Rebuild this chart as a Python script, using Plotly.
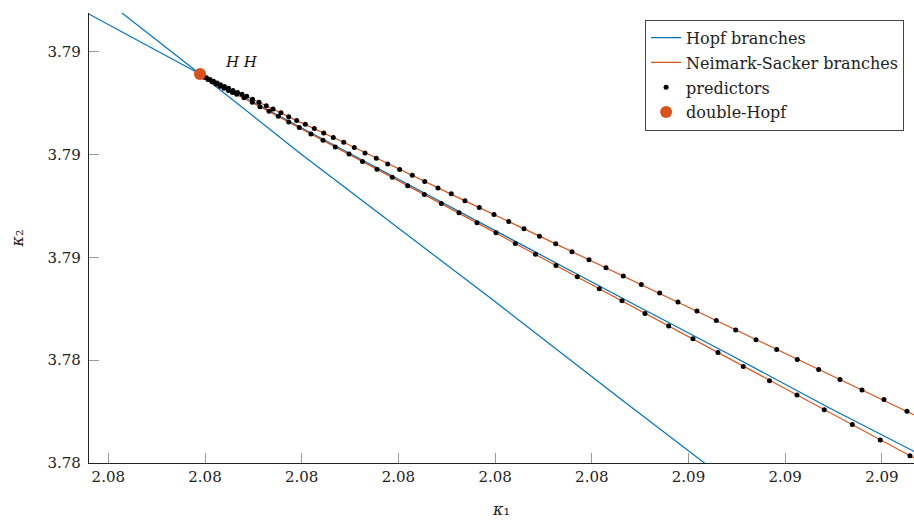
import plotly.graph_objects as go

BLUE = "#0072BD"
ORANGE = "#D95319"
FONT = "DejaVu Serif"

# ---- data ----
# double-Hopf point
hh_k1 = [2.0809483]
hh_k2 = [3.7867833]

# Hopf branch 1 (steep)
hopf1_k1 = [2.0800486, 2.0809483, 2.0819824, 2.0839648, 2.0853091, 2.0862119]
hopf1_k2 = [3.7874441, 3.7867833, 3.7860127, 3.7845938, 3.7836152, 3.7829661]

# Hopf branch 2 (shallow)
hopf2_k1 = [2.0797591, 2.0809483, 2.0819824, 2.0830165, 2.0843608, 2.0853949,
            2.0864290, 2.0874632, 2.0883733]
hopf2_k2 = [3.7873858, 3.7867833, 3.7862682, 3.7857483, 3.7850797, 3.7845627,
            3.7840526, 3.7835326, 3.7830924]

# Neimark-Sacker branch (upper)
ns1_k1 = [2.0809483, 2.0812430, 2.0815584, 2.0819482, 2.0824343, 2.0830134,
          2.0836886, 2.0844591, 2.0853257, 2.0862874, 2.0873463, 2.0882593, 2.0883733]
ns1_k2 = [3.7867833, 3.7866434, 3.7865083, 3.7863295, 3.7861195, 3.7858533,
          3.7855491, 3.7852061, 3.7848173, 3.7843858, 3.7839097, 3.7835034, 3.7834491]

# Neimark-Sacker branch (lower)
ns2_k1 = [2.0809483, 2.0812430, 2.0815687, 2.0819752, 2.0824891, 2.0830961,
          2.0838128, 2.0846297, 2.0855500, 2.0865666, 2.0876937, 2.0882903, 2.0883733]
ns2_k2 = [3.7867833, 3.7866220, 3.7864655, 3.7862614, 3.7860058, 3.7856949,
          3.7853353, 3.7849204, 3.7844539, 3.7839388, 3.7833752, 3.7830710, 3.7830293]

# predictors, upper branch
pred1_k1 = [2.0809793, 2.0810155, 2.0810517, 2.0810879, 2.0811241, 2.0811603, 2.0812016,
            2.0812430, 2.0812895, 2.0813361, 2.0813826, 2.0814312, 2.0814912, 2.0815584,
            2.0816339, 2.0817032, 2.0817859, 2.0818655, 2.0819482, 2.0820372, 2.0821302,
            2.0822275, 2.0823267, 2.0824343, 2.0825439, 2.0826545, 2.0827714, 2.0828893,
            2.0830134, 2.0831437, 2.0832719, 2.0834094, 2.0835470, 2.0836886, 2.0838365,
            2.0839885, 2.0841406, 2.0842988, 2.0844591, 2.0846266, 2.0847952, 2.0849710,
            2.0851468, 2.0853257, 2.0855118, 2.0857021, 2.0858913, 2.0860878, 2.0862874,
            2.0864880, 2.0866979, 2.0869120, 2.0871250, 2.0873463, 2.0875666, 2.0877941,
            2.0880216, 2.0882593]
pred1_k2 = [3.7867639, 3.7867464, 3.7867289, 3.7867123, 3.7866958, 3.7866793, 3.7866618,
            3.7866434, 3.7866229, 3.7866035, 3.7865850, 3.7865666, 3.7865384, 3.7865083,
            3.7864752, 3.7864432, 3.7864072, 3.7863683, 3.7863295, 3.7862945, 3.7862517,
            3.7862099, 3.7861643, 3.7861195, 3.7860671, 3.7860156, 3.7859641, 3.7859087,
            3.7858533, 3.7857989, 3.7857367, 3.7856754, 3.7856171, 3.7855491, 3.7854840,
            3.7854160, 3.7853480, 3.7852770, 3.7852061, 3.7851312, 3.7850535, 3.7849757,
            3.7848980, 3.7848173, 3.7847357, 3.7846521, 3.7845647, 3.7844772, 3.7843858,
            3.7842925, 3.7841983, 3.7841040, 3.7840069, 3.7839097, 3.7838125, 3.7837095,
            3.7836181, 3.7835034]

# predictors, lower branch
pred2_k1 = [2.0809896, 2.0810310, 2.0810724, 2.0811137, 2.0811551, 2.0811965, 2.0812430,
            2.0812844, 2.0813278, 2.0814033, 2.0814891, 2.0815687, 2.0816618, 2.0817580,
            2.0818655, 2.0819752, 2.0820961, 2.0822202, 2.0823474, 2.0824891, 2.0826287,
            2.0827786, 2.0829369, 2.0830961, 2.0832678, 2.0834436, 2.0836266, 2.0838128,
            2.0840093, 2.0842088, 2.0844177, 2.0846297, 2.0848500, 2.0850775, 2.0853122,
            2.0855500, 2.0857951, 2.0860464, 2.0863049, 2.0865666, 2.0868375, 2.0871219,
            2.0874042, 2.0876937, 2.0879833, 2.0882903]
pred2_k2 = [3.7867522, 3.7867289, 3.7867075, 3.7866861, 3.7866647, 3.7866443, 3.7866220,
            3.7866035, 3.7865860, 3.7865530, 3.7865083, 3.7864655, 3.7864208, 3.7863722,
            3.7863168, 3.7862614, 3.7862002, 3.7861390, 3.7860739, 3.7860058, 3.7859330,
            3.7858572, 3.7857794, 3.7856949, 3.7856103, 3.7855229, 3.7854325, 3.7853353,
            3.7852381, 3.7851342, 3.7850292, 3.7849204, 3.7848106, 3.7846939, 3.7845773,
            3.7844539, 3.7843314, 3.7842080, 3.7840748, 3.7839388, 3.7837998, 3.7836618,
            3.7835180, 3.7833752, 3.7832235, 3.7830710]

# axis ticks
x_tickvals = [2.080, 2.081, 2.082, 2.083, 2.084, 2.085, 2.086, 2.087, 2.088]
x_ticktext = ["2.08", "2.08", "2.08", "2.08", "2.08", "2.08", "2.09", "2.09", "2.09"]
y_tickvals = [3.787, 3.786, 3.785, 3.784, 3.783]
y_ticktext = ["3.79", "3.79", "3.79", "3.78", "3.78"]
x_range = [2.0798004, 2.0883320]
y_range = [3.783, 3.787376]

# ---- figure ----
fig = go.Figure()
line_w = 1.2

fig.add_trace(go.Scatter(x=hopf1_k1, y=hopf1_k2, mode="lines", name="Hopf branches",
                         line=dict(color=BLUE, width=line_w), legendgroup="hopf", showlegend=True))
fig.add_trace(go.Scatter(x=hopf2_k1, y=hopf2_k2, mode="lines", name="Hopf branches",
                         line=dict(color=BLUE, width=line_w), legendgroup="hopf", showlegend=False))
fig.add_trace(go.Scatter(x=ns1_k1, y=ns1_k2, mode="lines", name="Neimark-Sacker branches",
                         line=dict(color=ORANGE, width=line_w), legendgroup="ns", showlegend=True))
fig.add_trace(go.Scatter(x=ns2_k1, y=ns2_k2, mode="lines", name="Neimark-Sacker branches",
                         line=dict(color=ORANGE, width=line_w), legendgroup="ns", showlegend=False))
fig.add_trace(go.Scatter(x=pred1_k1, y=pred1_k2, mode="markers", name="predictors",
                         marker=dict(color="black", size=5), legendgroup="pred", showlegend=True))
fig.add_trace(go.Scatter(x=pred2_k1, y=pred2_k2, mode="markers", name="predictors",
                         marker=dict(color="black", size=5), legendgroup="pred", showlegend=False))
fig.add_trace(go.Scatter(x=hh_k1, y=hh_k2, mode="markers", name="double-Hopf",
                         marker=dict(color=ORANGE, size=12), legendgroup="hh", showlegend=True,
                         cliponaxis=False))

fig.add_annotation(x=2.0813723, y=3.7868999, text="<i>H H</i>", showarrow=False,
                   font=dict(family=FONT, size=15, color="#111"))

axis_common = dict(showgrid=False, zeroline=False, showline=True, linecolor="#222", linewidth=1.3,
                   ticks="inside", ticklen=10, tickcolor="#999", tickwidth=1, mirror=False,
                   tickfont=dict(family=FONT, size=15, color="#222"))

fig.update_xaxes(range=x_range, tickvals=x_tickvals, ticktext=x_ticktext,
                 title=dict(text="<i>κ</i>₁", font=dict(family=FONT, size=16, color="#222"),
                            standoff=18),
                 **axis_common)
fig.update_yaxes(range=y_range, tickvals=y_tickvals, ticktext=y_ticktext,
                 title=dict(text="<i>κ</i>₂", font=dict(family=FONT, size=16, color="#222"),
                            standoff=19),
                 ticklabelstandoff=4,
                 **axis_common)

fig.update_layout(
    width=914, height=520,
    margin=dict(l=89, r=0, t=13, b=57, autoexpand=False),
    plot_bgcolor="white", paper_bgcolor="white",
    font=dict(family=FONT, size=15, color="#222"),
    legend=dict(x=0.988, xanchor="right", y=0.985, yanchor="top",
                bordercolor="#444", borderwidth=1, bgcolor="white",
                font=dict(family=FONT, size=16, color="#222"),
                tracegroupgap=1),
    showlegend=True,
)

fig.write_html("out.html")
